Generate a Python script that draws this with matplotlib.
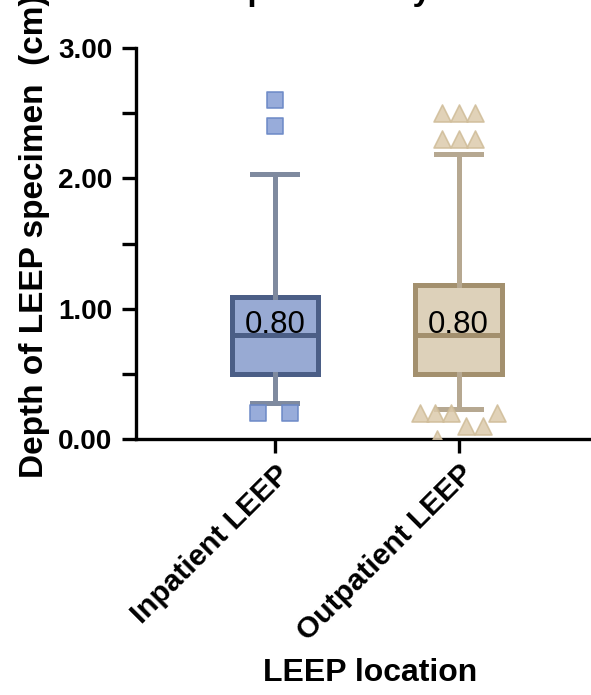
import matplotlib
matplotlib.use("Agg")
import matplotlib.pyplot as plt
from matplotlib.ticker import MultipleLocator

plt.rcParams['font.family'] = ['Liberation Sans', 'DejaVu Sans']
plt.rcParams['font.weight'] = 'bold'

categories = ['Inpatient LEEP', 'Outpatient LEEP']

# box summaries (cm)
q1 = [0.50, 0.50]
median = [0.80, 0.80]
q3 = [1.09, 1.18]
whis_lo = [0.28, 0.23]
whis_hi = [2.03, 2.19]

# outliers: values and horizontal jitter (in category units)
in_out_vals = [2.60, 2.40, 0.20, 0.20]
in_out_jit = [0.0, 0.0, -0.09, 0.08]
out_out_vals = [2.50, 2.50, 2.50, 2.30, 2.30, 2.30, 0.20, 0.20, 0.20, 0.20, 0.10, 0.10, 0.00]
out_out_jit = [-0.09, 0.0, 0.09, -0.09, 0.0, 0.09, -0.21, -0.13, -0.04, 0.21, 0.04, 0.13, -0.12]

box_fill = ['#98AAD3', '#DDD1BA']
box_edge = ['#4B5E86', '#A3906E']
whisk_col = ['#7F8A9F', '#B6A891']
pt_fill = ['#8DA3D6', '#DCCAAC']
pt_edge = ['#6A88C6', '#CFBC98']

W, H = 591, 695
fig = plt.figure(figsize=(W / 100, H / 100), dpi=100)
ax = fig.add_axes([136 / W, 1 - 439 / H, 1 - 136 / W, (439 - 48) / H])

stats = []
for i, c in enumerate(categories):
    stats.append(dict(label=c, q1=q1[i], med=median[i], q3=q3[i],
                      whislo=whis_lo[i], whishi=whis_hi[i], fliers=[]))

for i in range(len(categories)):
    ax.bxp([stats[i]], positions=[i], widths=0.47, capwidths=0.245,
           patch_artist=True, showfliers=False,
           boxprops=dict(facecolor=box_fill[i], edgecolor=box_edge[i], linewidth=3.6),
           medianprops=dict(color=box_edge[i], linewidth=3.6),
           whiskerprops=dict(color=whisk_col[i], linewidth=3.6),
           capprops=dict(color=whisk_col[i], linewidth=3.6))
    ax.text(i, median[i] + 0.013, f'{median[i]:.2f}', ha='center', va='baseline',
            fontsize=22.5, fontweight='normal', color='black', zorder=5)

ax.scatter([0 + j for j in in_out_jit], in_out_vals, marker='s', s=125,
           facecolor=pt_fill[0], edgecolor=pt_edge[0], linewidth=1.2, alpha=0.9, zorder=4)
ax.scatter([1 + j for j in out_out_jit], out_out_vals, marker='^', s=150,
           facecolor=pt_fill[1], edgecolor=pt_edge[1], linewidth=1.2, alpha=0.85, zorder=4)

ax.set_xlim(-0.755, 1.72)
ax.set_ylim(0, 3)
ax.set_xticks([0, 1])
ax.set_xticklabels(categories, rotation=45, ha='right', rotation_mode='anchor',
                   fontsize=21.5, fontweight='bold')
ax.yaxis.set_major_locator(MultipleLocator(1))
ax.yaxis.set_minor_locator(MultipleLocator(0.5))
ax.set_yticklabels([f'{v:.2f}' for v in ax.get_yticks()], fontsize=20, fontweight='bold')

for s in ['top', 'right']:
    ax.spines[s].set_visible(False)
for s in ['left', 'bottom']:
    ax.spines[s].set_linewidth(2.4)
ax.tick_params(axis='both', which='both', width=2.4, length=10, direction='out')
ax.tick_params(axis='x', pad=5)
ax.tick_params(axis='y', pad=7)

ax.set_ylabel('Depth of LEEP specimen  (cm)', fontsize=24, fontweight='bold')
ax.yaxis.set_label_coords((50 - 136) / 455, (439 - 236) / 391)
ax.set_xlabel('LEEP location', fontsize=23, fontweight='bold')
ax.xaxis.set_label_coords((370 - 136) / 455, (439 - 681) / 391)
ax.xaxis.label.set_verticalalignment('baseline')

# title sits above the canvas; only its descenders show
fig.text(133 / W, 1.0, 'LEEP specimen by location', ha='left', va='baseline',
         fontsize=24, fontweight='bold')

fig.savefig('out.png', dpi=100)
